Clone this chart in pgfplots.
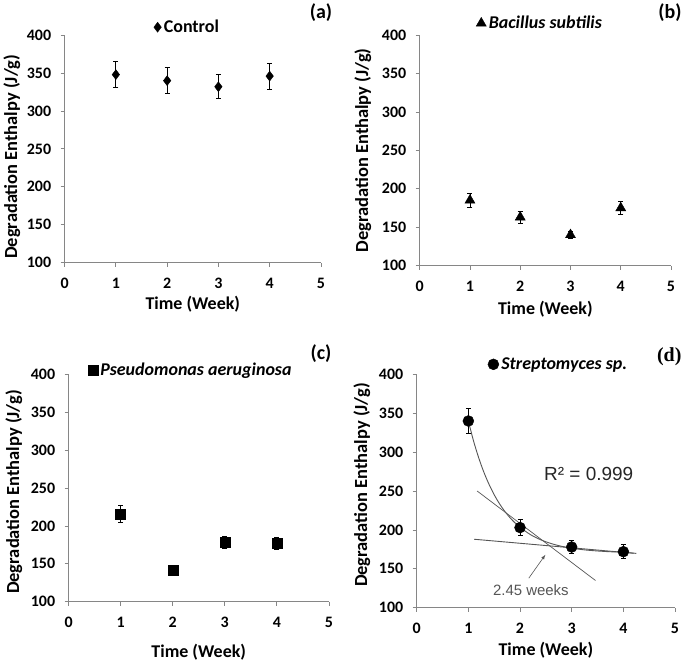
\documentclass[border=0pt]{standalone}
\usepackage{pgfplots}
\pgfplotsset{compat=1.18}
\usepackage{fontspec}
\setmainfont{Carlito}
\newfontfamily\arialf{Liberation Sans}
\newfontfamily\seriff{Liberation Serif}
\definecolor{axgray}{RGB}{134,134,134}
\definecolor{fitgray}{RGB}{85,85,85}
\pgfplotsset{
  panel/.style={
    scale only axis,
    axis lines=left,
    axis line style={-, draw=axgray, line width=0.8pt},
    xmin=0, xmax=5, ymin=100, ymax=400,
    xtick={0,1,2,3,4,5}, ytick={100,150,200,250,300,350,400},
    tick align=outside, major tick length=4pt,
    tick style={draw=axgray, line width=0.8pt},
    /pgf/number format/assume math mode=true,
    xticklabel style={font=\fontsize{16}{16}\selectfont\bfseries, yshift=-8pt},
    yticklabel style={font=\fontsize{16}{16}\selectfont\bfseries, xshift=-6pt},
    xlabel style={font=\fontsize{18}{18}\selectfont\bfseries},
    ylabel style={font=\fontsize{18.5}{18.5}\selectfont\bfseries},
    xlabel={Time (Week)},
    ylabel={Degradation Enthalpy (J/g)},
    legend style={draw=none, fill=none, inner sep=0pt, anchor=center,
      font=\fontsize{18}{18}\selectfont\bfseries, nodes={inner sep=2.5pt}},
    legend cell align=left,
    clip=false,
  },
  pts/.style={only marks, black, mark options={fill=black, draw=black},
    error bars/.cd, y dir=both, y explicit,
    error bar style={black, line width=0.8pt},
    error mark options={rotate=90, mark size=2.5pt, line width=0.8pt, black},
    /pgfplots/.cd},
}
\begin{document}
\begin{tikzpicture}[x=1pt,y=1pt]
\path (0,0) rectangle (685,664);
% (a)
\begin{axis}[panel, at={(63pt,403pt)}, anchor=south west, width=257pt, height=228pt,
  xlabel style={at={(axis description cs:0.5,0)}, anchor=center, yshift=-42pt},
  ylabel style={at={(axis description cs:0,0.5)}, anchor=center, yshift=53pt, xshift=-8pt},
  legend style={at={(axis description cs:0.48,1)}, yshift=8pt}]
\addplot+[mark=diamond*, mark size=5pt, pts] coordinates {
 (1,348) +- (0,17)
 (2,340) +- (0,17)
 (3,332) +- (0,16)
 (4,346) +- (0,17)
};
\addlegendentry{Control}
\end{axis}
\node[font=\fontsize{20}{20}\selectfont\bfseries, anchor=center] at (320,654) {(a)};
% (b)
\begin{axis}[panel, at={(419pt,400pt)}, anchor=south west, width=252pt, height=231pt,
  xlabel style={at={(axis description cs:0.5,0)}, anchor=center, yshift=-44pt},
  ylabel style={at={(axis description cs:0,0.5)}, anchor=center, yshift=57pt},
  legend style={at={(axis description cs:0.48,1)}, yshift=12pt}]
\addplot+[mark=triangle*, mark size=5.8pt, pts] coordinates {
 (1,185) +- (0,9)
 (2,163) +- (0,8)
 (3,140) +- (0,5)
 (4,175) +- (0,9)
};
\addlegendentry{\textit{Bacillus subtilis}}
\end{axis}
\node[font=\fontsize{20}{20}\selectfont\bfseries, anchor=east] at (685,654) {(b)};
% (c)
\begin{axis}[panel, at={(67pt,63pt)}, anchor=south west, width=261pt, height=228pt,
  xlabel style={at={(axis description cs:0.5,0)}, anchor=center, yshift=-51pt},
  ylabel style={at={(axis description cs:0,0.5)}, anchor=center, yshift=55pt, xshift=-4pt},
  legend style={at={(axis description cs:0.47,1)}, yshift=4pt}]
\addplot+[mark=square*, mark size=5pt, pts] coordinates {
 (1,216) +- (0,11)
 (2,141) +- (0,5)
 (3,178) +- (0,8)
 (4,177) +- (0,8)
};
\addlegendentry{\textit{Pseudomonas aeruginosa}}
\end{axis}
\node[font=\fontsize{20}{20}\selectfont\bfseries, anchor=center] at (320,312) {(c)};
% (d)
\begin{axis}[panel, at={(416pt,57pt)}, anchor=south west, width=259pt, height=234pt,
  xlabel style={at={(axis description cs:0.5,0)}, anchor=center, yshift=-43pt},
  ylabel style={at={(axis description cs:0,0.5)}, anchor=center, yshift=55pt, xshift=6pt},
  legend style={at={(axis description cs:0.55,1)}, yshift=10pt}]
\addplot+[mark=*, mark size=5.5pt, pts] coordinates {
 (1,340) +- (0,16)
 (2,203) +- (0,10)
 (3,178) +- (0,8)
 (4,172) +- (0,9)
};
\addlegendentry{\textit{Streptomyces sp.}}
\addplot[fitgray, line width=0.9pt, smooth, forget plot] coordinates {
 (1.0,340) (1.1,314.4) (1.2,292.7) (1.3,274.2) (1.4,258.6) (1.5,245.2)
 (1.6,233.9) (1.7,224.3) (1.8,216.1) (1.9,209.2) (2.0,203.3) (2.2,194.0)
 (2.4,187.3) (2.6,182.5) (2.8,179.0) (3.0,176.5) (3.25,174.3) (3.5,172.9)
 (3.75,171.9) (4.0,171.3) (4.25,169.8)
};
\addplot[fitgray, line width=0.7pt, forget plot] coordinates {(1.17,250) (3.46,135)};
\addplot[fitgray, line width=0.9pt, forget plot] coordinates {(1.11,188) (4.2,170)};
\draw[fitgray, line width=0.6pt, -{latex}] (axis cs:2.17,138) -- (axis cs:2.49,168);
\node[fitgray, font=\arialf\fontsize{15}{15}\selectfont] at (axis cs:2.21,122.7) {2.45 weeks};
\node[black!85, font=\arialf\fontsize{19}{19}\selectfont] at (axis cs:3.33,271.4) {R² = 0.999};
\end{axis}
\node[font=\seriff\bfseries\fontsize{20}{20}\selectfont, anchor=east] at (685,309) {(d)};
\end{tikzpicture}
\end{document}
